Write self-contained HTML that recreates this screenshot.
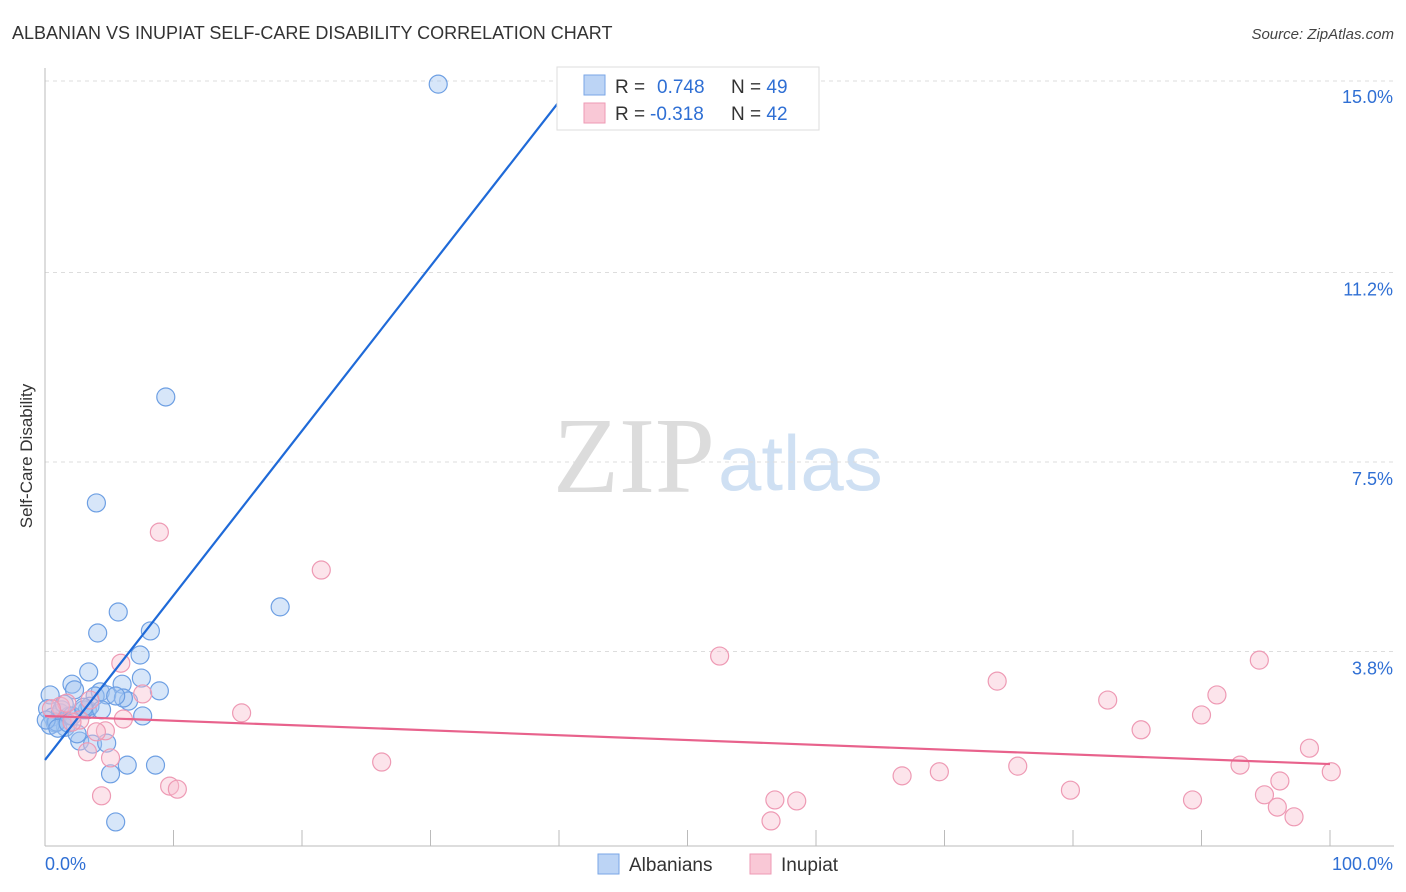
<!DOCTYPE html>
<html><head><meta charset="utf-8"><style>
body{margin:0;background:#fff;font-family:"Liberation Sans",sans-serif;}
svg{display:block}
</style></head><body>
<svg id="chart" width="1406" height="892" xmlns="http://www.w3.org/2000/svg">
<text x="12" y="39" font-size="18" fill="#333">ALBANIAN VS INUPIAT SELF-CARE DISABILITY CORRELATION CHART</text>
<text x="1394" y="39" font-size="15" fill="#444" font-style="italic" text-anchor="end">Source: ZipAtlas.com</text>
<text x="32" y="456" font-size="17" fill="#333" text-anchor="middle" transform="rotate(-90 32 456)">Self-Care Disability</text>
<g>
<text x="553" y="492" font-size="108" fill="#dcdcdc" font-family="Liberation Serif,serif">ZIP</text>
<text x="718" y="490" font-size="78" fill="#cfe0f3">atlas</text>
</g>
<g id="grid"></g>
<g id="axes"></g>
<g id="pts"></g>
<g id="lines"></g>
<g>
<rect x="557" y="67" width="262" height="63" fill="#fff" stroke="#ddd"/>
<rect x="584" y="75" width="21" height="20" fill="#bcd4f5" stroke="#7aa6e6"/>
<rect x="584" y="103" width="21" height="20" fill="#f9c8d6" stroke="#ee9ab4"/>
<text x="615" y="93" font-size="19" fill="#333">R = <tspan fill="#2f6fd4" x="657">0.748</tspan><tspan fill="#333" x="731">N = </tspan><tspan fill="#2f6fd4">49</tspan></text>
<text x="615" y="120" font-size="19" fill="#333">R = <tspan fill="#2f6fd4" x="650">-0.318</tspan><tspan fill="#333" x="731">N = </tspan><tspan fill="#2f6fd4">42</tspan></text>
</g>
<g>
<rect x="598" y="854" width="21" height="20" fill="#bcd4f5" stroke="#7aa6e6"/>
<text x="629" y="871" font-size="19" fill="#333">Albanians</text>
<rect x="750" y="854" width="21" height="20" fill="#f9c8d6" stroke="#ee9ab4"/>
<text x="781" y="871" font-size="19" fill="#333">Inupiat</text>
</g>
</svg>
<script>
const yTicks=[3.8,7.5,11.2,15.0];
const yTickLabels=["3.8%","7.5%","11.2%","15.0%"];
const xTickLabels=["0.0%","100.0%"];
const albX=[30.6,9.4,4.0,5.7,18.3,4.1,8.2,7.4,3.4,7.5,2.1,2.3,6.0,4.3,3.9,4.8,8.9,6.5,6.1,3.3,7.6,0.4,0.2,0.6,1.2,0.8,1.6,0.4,1.3,3.0,2.7,3.7,4.8,5.1,6.4,8.6,5.5,0.9,1.9,3.5,1.5,0.1,1.0,2.1,4.4,3.0,5.5,1.8,2.5];
const albY=[14.88,8.77,6.70,4.57,4.67,4.16,4.20,3.73,3.40,3.28,3.16,3.05,3.16,3.01,2.93,2.95,3.03,2.83,2.89,2.66,2.54,2.95,2.68,2.52,2.60,2.40,2.32,2.36,2.66,2.66,2.05,1.99,2.01,1.41,1.58,1.58,0.47,2.42,2.54,2.73,2.77,2.46,2.30,2.54,2.66,2.71,2.93,2.40,2.19];
const inuX=[8.9,21.5,52.5,74.1,94.5,82.7,91.2,90.0,85.3,98.4,15.3,7.6,5.9,6.1,26.2,75.7,93.0,69.6,66.7,100.1,96.1,79.8,89.3,94.9,56.8,58.5,95.9,97.2,56.5,9.7,10.3,4.4,3.3,5.1,4.7,4.0,1.2,1.7,2.7,0.5,3.5,2.1];
const inuY=[6.13,5.39,3.71,3.22,3.63,2.85,2.95,2.56,2.27,1.91,2.60,2.97,3.57,2.48,1.64,1.56,1.58,1.45,1.37,1.45,1.27,1.09,0.90,1.00,0.90,0.88,0.76,0.57,0.49,1.17,1.11,0.98,1.84,1.72,2.25,2.23,2.73,2.79,2.46,2.68,2.85,2.42];
const albTrend=[[0,1.68],[40.1,14.57]];
const inuTrend=[[0,2.54],[100,1.60]];
const NS="http://www.w3.org/2000/svg";
const X=v=>45+v*12.85, Y=v=>846-v*51.2;
function mk(t,a,p){const e=document.createElementNS(NS,t);for(const k in a)e.setAttribute(k,a[k]);document.getElementById(p).appendChild(e);return e;}
yTicks.forEach((t,i)=>{
 const g=mk('line',{x1:45,x2:1394,y1:Y(t)+(t===15?3:0),y2:Y(t)+(t===15?3:0),stroke:'#ddd','stroke-dasharray':'4,4'},'grid');
 
 
 const l=mk('text',{x:1393,y:Y(t)+(t===15?25:23),'font-size':18,fill:'#2f6fd4','text-anchor':'end'},'grid');
 l.textContent=yTickLabels[i];
 
 
});
const ax=mk('line',{x1:45,x2:45,y1:68,y2:846,stroke:'#bbb'},'axes');


const bx=mk('line',{x1:45,x2:1394,y1:846,y2:846,stroke:'#bbb'},'axes');


for(let i=0;i<=10;i++){const t=mk('line',{x1:X(i*10),x2:X(i*10),y1:830,y2:846,stroke:'#bbb'},'axes');
 
 }
[[0,'start',45],[100,'end',1393]].forEach((d,i)=>{const t=mk('text',{x:d[2],y:870,'font-size':18,fill:'#2f6fd4','text-anchor':d[1]},'axes');t.textContent=xTickLabels[i];
 
 });
albX.forEach((v,i)=>{const c=mk('circle',{cx:X(v),cy:Y(albY[i]),r:9,fill:'rgba(160,196,240,0.42)',stroke:'#6d9fe3','stroke-width':1.2},'pts');
 
 });
inuX.forEach((v,i)=>{const c=mk('circle',{cx:X(v),cy:Y(inuY[i]),r:9,fill:'rgba(248,190,208,0.42)',stroke:'#ee9ab4','stroke-width':1.2},'pts');
 
 });
const a=mk('line',{x1:X(albTrend[0][0]),y1:Y(albTrend[0][1]),x2:X(albTrend[1][0]),y2:Y(albTrend[1][1]),stroke:'#1f6ad8','stroke-width':2.2},'lines');


const b=mk('line',{x1:X(inuTrend[0][0]),y1:Y(inuTrend[0][1]),x2:X(inuTrend[1][0]),y2:Y(inuTrend[1][1]),stroke:'#e8628c','stroke-width':2.2},'lines');


</script>
</body></html>
